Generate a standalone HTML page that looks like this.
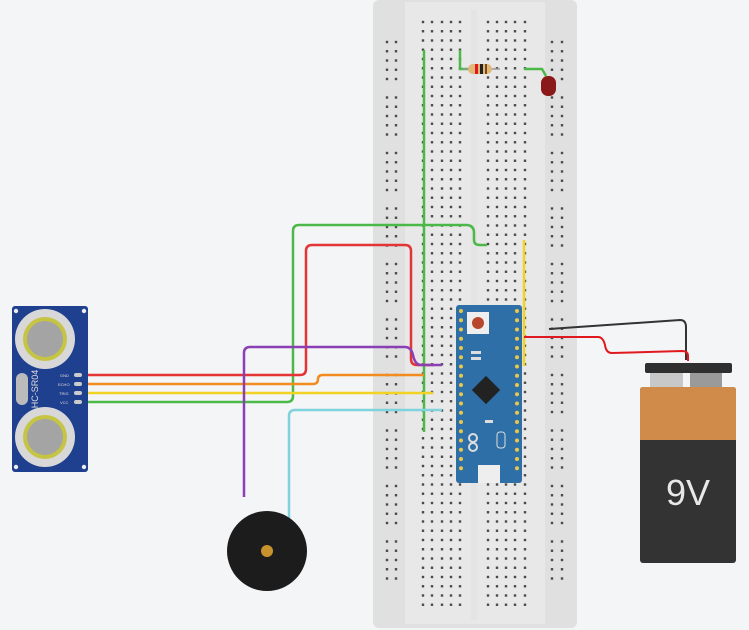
<!DOCTYPE html>
<html><head><meta charset="utf-8"><style>
html,body{margin:0;padding:0;background:#f4f5f7;}
svg{display:block;font-family:"Liberation Sans",sans-serif;}
</style></head><body>
<svg id="s" width="749" height="630" viewBox="0 0 749 630" xmlns="http://www.w3.org/2000/svg">
<rect width="749" height="630" fill="#f4f5f7"/>
<!-- breadboard -->
<rect x="373" y="0" width="204" height="628" rx="6" fill="#e0e0e0"/>
<rect x="405" y="2" width="140" height="622" fill="#e8e8e8"/>
<line x1="474" y1="10" x2="474" y2="620" stroke="#e4e4e4" stroke-width="6"/>
<g id="dots" fill="#4a4a4a"></g>
<!-- green vertical -->
<line x1="424" y1="50" x2="424" y2="432" stroke="#4cb848" stroke-width="2.5"/>
<!-- resistor area -->
<polyline points="460,50 460,69 470,69" fill="none" stroke="#4cb848" stroke-width="2.5"/>
<line x1="463" y1="69" x2="500" y2="69" stroke="#999" stroke-width="1.5"/>
<rect x="468" y="64" width="24" height="10" rx="5" fill="#e1b877"/>
<rect x="475" y="64" width="3" height="10" fill="#e0191f"/>
<rect x="480" y="64" width="3" height="10" fill="#222"/>
<rect x="485" y="64" width="2" height="10" fill="#7a4a1a"/>
<polyline points="524,69 542,69 546,76" fill="none" stroke="#4cb848" stroke-width="2.5"/>
<rect x="541" y="76" width="15" height="20" rx="7" fill="#8a1a1a"/>
<!-- yellow vertical -->
<line x1="524" y1="240" x2="524" y2="366" stroke="#f2d224" stroke-width="2.5"/>
<!-- arduino -->
<rect x="456" y="305" width="66" height="178" rx="3" fill="#2e6fa7"/>
<rect x="467" y="312" width="22" height="22" fill="#eee"/>
<circle cx="478" cy="323" r="6" fill="#b8462d"/>
<rect x="471" y="351" width="10" height="3" fill="#ddd"/><rect x="471" y="357" width="10" height="3" fill="#ddd"/>
<rect x="476" y="380" width="20" height="20" transform="rotate(45 486 390)" fill="#222"/>
<rect x="485" y="420" width="8" height="3" fill="#ddd"/>
<circle cx="473" cy="438" r="4" fill="none" stroke="#ddd" stroke-width="2"/>
<circle cx="473" cy="447" r="4" fill="none" stroke="#ddd" stroke-width="2"/>
<rect x="497" y="432" width="8" height="16" rx="3" fill="none" stroke="#ddd"/>
<rect x="478" y="465" width="22" height="18" fill="#eee"/>
<g id="pins" fill="#e8c84a"></g>
<!-- wires -->
<g fill="none" stroke-width="2.5" stroke-linejoin="round">
<path d="M82,402 H287 Q293,402 293,396 V231 Q293,225 299,225 H466 Q474,225 474,233 V240 Q474,245 480,245 H487" stroke="#4cb848"/>
<path d="M82,375 H300 Q306,375 306,369 V251 Q306,245 312,245 H405 Q411,245 411,251 V359 Q411,365 417,365 H434" stroke="#e33535"/>
<path d="M82,384 H313 Q318,384 318,379 Q318,375 323,375 H424" stroke="#f28c1e"/>
<path d="M82,393 H433" stroke="#f2d224"/>
<path d="M244,497 V353 Q244,347 250,347 H405 Q411,347 413,355 Q415,365 421,365 H442" stroke="#8a3fb5"/>
<path d="M289,521 V416 Q289,410 295,410 H442" stroke="#7fd3dd"/>
<path d="M549,329 L680,320 Q686,320 686,327 V360" stroke="#333" stroke-width="2"/>
<path d="M524,337 H598 Q603,337 605,345 Q606,353 612,353 L682,351 Q688,351 688,356 V361" stroke="#e0191f" stroke-width="2"/>
</g>
<!-- sensor -->
<rect x="12" y="306" width="76" height="166" rx="3" fill="#1f3f8f"/>
<circle cx="16" cy="311" r="2.2" fill="#eee"/><circle cx="84" cy="311" r="2.2" fill="#eee"/>
<circle cx="16" cy="467" r="2.2" fill="#eee"/><circle cx="84" cy="467" r="2.2" fill="#eee"/>
<circle cx="45" cy="339" r="30" fill="#d8d8d8"/><circle cx="45" cy="339" r="22" fill="#c6c445"/><circle cx="45" cy="339" r="18" fill="#a4a4a4"/>
<circle cx="45" cy="437" r="30" fill="#d8d8d8"/><circle cx="45" cy="437" r="22" fill="#c6c445"/><circle cx="45" cy="437" r="18" fill="#a4a4a4"/>
<rect x="16" y="373" width="12" height="32" rx="6" fill="#bbb"/>
<text x="38" y="389" font-size="9" fill="#ddd" transform="rotate(-90 38 389)" text-anchor="middle">HC-SR04</text>
<g fill="#ccc"><rect x="74" y="373" width="8" height="4" rx="2"/><rect x="74" y="382" width="8" height="4" rx="2"/><rect x="74" y="391" width="8" height="4" rx="2"/><rect x="74" y="400" width="8" height="4" rx="2"/></g>
<g font-size="4" fill="#ddd"><text x="60" y="377">GND</text><text x="58" y="386">ECHO</text><text x="59" y="395">TRIG</text><text x="60" y="404">VCC</text></g>
<!-- buzzer -->
<circle cx="267" cy="551" r="40" fill="#1c1c1c"/>
<circle cx="267" cy="551" r="6" fill="#c8932e"/>
<!-- battery -->
<rect x="650" y="370" width="33" height="19" fill="#c8c8c8"/>
<rect x="690" y="370" width="32" height="19" fill="#9a9a9a"/>
<rect x="645" y="363" width="87" height="10" rx="2" fill="#2f2f2f"/>
<rect x="640" y="387" width="96" height="176" rx="3" fill="#333"/>
<path d="M640,440 V390 Q640,387 643,387 H733 Q736,387 736,390 V440 Z" fill="#d08b4a"/>
<text x="688" y="505" font-size="36" fill="#e8e8e8" text-anchor="middle">9V</text>
</svg>
<script>
var ns="http://www.w3.org/2000/svg",g=document.getElementById("dots");
function d(x,y){var c=document.createElementNS(ns,"rect");c.setAttribute("x",x-1.2);c.setAttribute("y",y-1.2);c.setAttribute("width",2.4);c.setAttribute("height",2.4);g.appendChild(c);}
var mc=[423,432,442,451,460,488,497,506,515,525];
for(var i=0;i<64;i++){var y=22+i*9.25;mc.forEach(function(x){d(x,y);});}
for(var i=0;i<59;i++){if(i%6==5)continue;var y=42+i*9.25;if(y>590)break;[387,396,552,562].forEach(function(x){d(x,y);});}
var p=document.getElementById("pins");
for(var i=0;i<18;i++){var y=311+i*9.25;[461,517].forEach(function(x){var c=document.createElementNS(ns,"circle");c.setAttribute("cx",x);c.setAttribute("cy",y);c.setAttribute("r",2);p.appendChild(c);});}
</script>
</body></html>
